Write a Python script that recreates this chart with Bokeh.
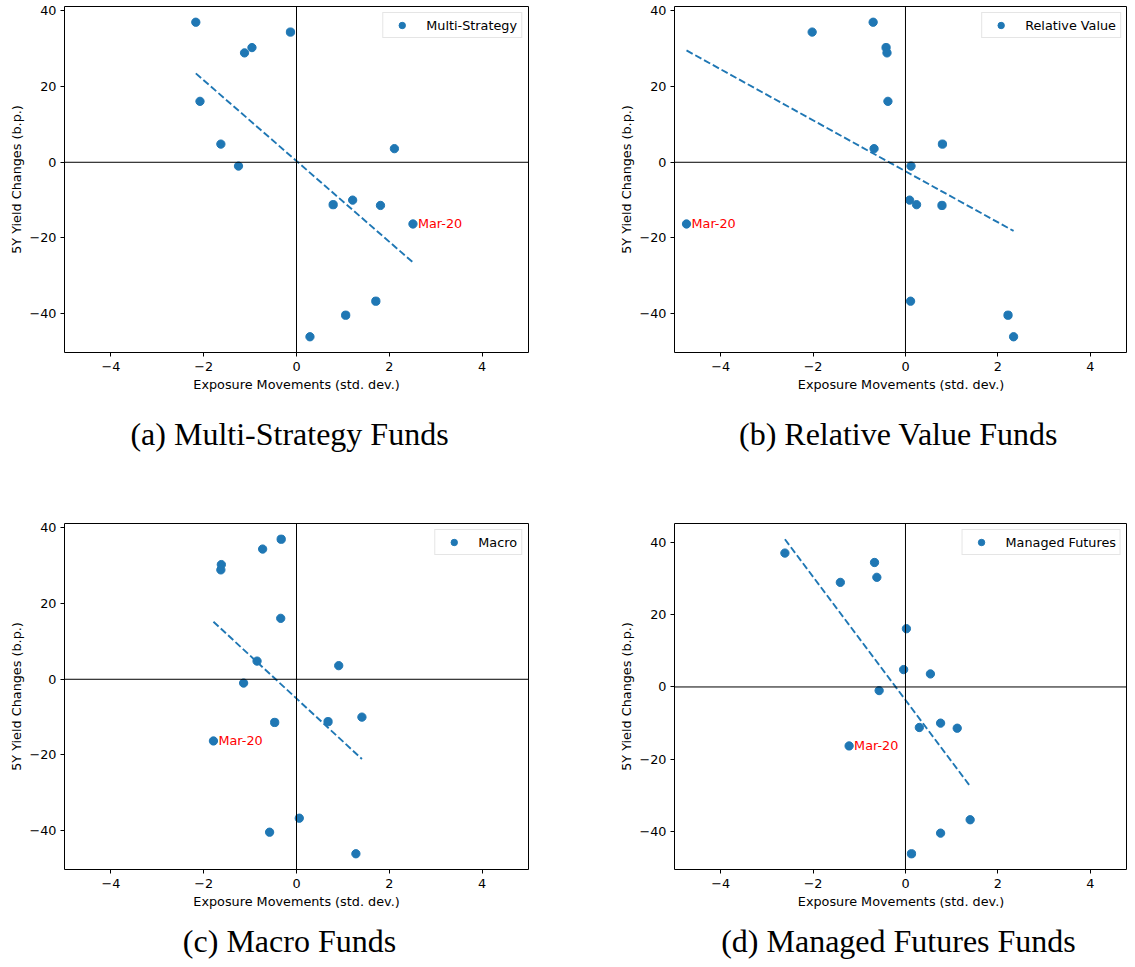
import numpy as np
from bokeh.plotting import figure
from bokeh.layouts import column, row
from bokeh.models import Range1d, FixedTicker, Span
from bokeh.core.properties import value
from bokeh.embed import file_html
from bokeh.resources import INLINE

# ---------------- data ----------------
Y_CHANGE = [37.0, 34.4, 30.3, 28.9, 16.1, 4.8, 3.6, -1.0, -10.0, -11.2, -11.4, -16.3, -36.7, -40.4, -46.1]
MARCH_IDX = 11
MARCH_LABEL = "Mar-20"

X_MULTI = [-2.17, -0.13, -0.96, -1.12, -2.08, -1.63, 2.11, -1.25, 1.21, 0.79, 1.81, 2.51, 1.71, 1.06, 0.29]
X_RELVAL = [-0.70, -2.02, -0.42, -0.40, -0.38, 0.80, -0.68, 0.12, 0.09, 0.24, 0.79, -4.74, 0.11, 2.22, 2.34]
X_MACRO = [-0.33, -0.73, -1.62, -1.63, -0.34, -0.85, 0.91, -1.14, 1.41, 0.68, -0.47, -1.79, 0.06, -0.58, 1.28]
X_MANFUT = [-2.61, -0.67, -0.62, -1.41, 0.02, -0.04, 0.54, -0.57, 0.76, 0.30, 1.12, -1.22, 1.40, 0.76, 0.13]

SERIES_NAMES = ["Multi-Strategy", "Relative Value", "Macro", "Managed Futures"]
CAPTIONS = ["(a) Multi-Strategy Funds", "(b) Relative Value Funds",
            "(c) Macro Funds", "(d) Managed Futures Funds"]

XTICKS = [-4, -2, 0, 2, 4]
XTICK_LABELS = ["\u22124", "\u22122", "0", "2", "4"]
YTICKS = [-40, -20, 0, 20, 40]
YTICK_LABELS = ["\u221240", "\u221220", "0", "20", "40"]

X_LABEL = "Exposure Movements (std. dev.)"
Y_LABEL = "5Y Yield Changes (b.p.)"

# ---------------- style ----------------
BLUE = "#1f77b4"
SANS = "DejaVu Sans"
FS = "12.8px"
PX_PER_UNIT = 46.4


def make_panel(xs, name, width, height, frame_w, b_left, b_right, b_top):
    slope, icpt = np.polyfit(xs, Y_CHANGE, 1)
    lx = np.array([min(xs), max(xs)])
    ly = icpt + slope * lx
    allv = list(Y_CHANGE) + list(ly)
    lo, hi = min(allv), max(allv)
    pad = 0.05 * (hi - lo)
    x_end = -5 + frame_w / PX_PER_UNIT

    p = figure(width=width, height=height,
               x_range=Range1d(-5, x_end), y_range=Range1d(lo - pad, hi + pad),
               output_backend="svg", toolbar_location=None,
               min_border_left=b_left, min_border_right=b_right,
               min_border_top=b_top, min_border_bottom=50)
    p.grid.visible = False
    p.background_fill_color = "white"
    p.border_fill_color = "white"
    p.outline_line_color = "black"
    p.outline_line_width = 1

    for ax, ticks, labels in ((p.xaxis, XTICKS, XTICK_LABELS), (p.yaxis, YTICKS, YTICK_LABELS)):
        ax.ticker = FixedTicker(ticks=ticks)
        ax.major_label_overrides = dict(zip(ticks, labels))
        ax.axis_line_color = None
        ax.major_tick_line_color = "black"
        ax.major_tick_line_width = 1
        ax.major_tick_out = 4
        ax.major_tick_in = 0
        ax.minor_tick_out = 0
        ax.minor_tick_in = 0
        ax.major_label_text_font = SANS
        ax.major_label_text_font_size = FS
        ax.major_label_text_color = "black"
        ax.axis_label_text_font = SANS
        ax.axis_label_text_font_size = FS
        ax.axis_label_text_font_style = "normal"
        ax.axis_label_text_color = "black"
    p.xaxis.axis_label = X_LABEL
    p.yaxis.axis_label = Y_LABEL
    p.xaxis.major_label_standoff = 5
    p.xaxis.axis_label_standoff = 3
    p.yaxis.major_label_standoff = 4
    p.yaxis.axis_label_standoff = 2

    p.scatter(xs, Y_CHANGE, size=8.3, fill_color=BLUE, line_color=BLUE, line_width=1,
              legend_label=name)
    p.line(lx, ly, line_color=BLUE, line_width=1.9, line_dash="7 3")

    p.add_layout(Span(location=0, dimension="width", line_color="black", line_width=1))
    p.add_layout(Span(location=0, dimension="height", line_color="black", line_width=1))

    p.text(x=[xs[MARCH_IDX]], y=[Y_CHANGE[MARCH_IDX]], text=[MARCH_LABEL], x_offset=5,
           text_align="left", text_baseline="alphabetic", text_color="red",
           text_font=value(SANS), text_font_size=FS)

    lg = p.legend[0]
    lg.location = "top_right"
    lg.margin = 6
    lg.padding = 4
    lg.spacing = 0
    lg.glyph_width = 29
    lg.glyph_height = 16
    lg.label_height = 16
    lg.label_standoff = 10
    lg.label_text_font = SANS
    lg.label_text_font_size = FS
    lg.label_text_color = "black"
    lg.border_line_color = "#cccccc"
    lg.border_line_width = 1
    lg.background_fill_color = "white"
    lg.background_fill_alpha = 0.8
    return p


def make_caption(text, width, height, cx, base):
    c = figure(width=width, height=height, x_range=Range1d(0, width), y_range=Range1d(height, 0),
               output_backend="svg", toolbar_location=None, min_border=0,
               x_axis_location=None, y_axis_location=None)
    c.grid.visible = False
    c.outline_line_color = None
    c.background_fill_color = "white"
    c.border_fill_color = "white"
    c.text(x=[cx], y=[base], text=[text], text_align="center", text_baseline="alphabetic",
           text_font=value("Liberation Serif"), text_font_size="32px", text_color="black")
    return c


WA, WB = 616, 511
FRAME_A, FRAME_B = 464, 455
pa = make_panel(X_MULTI, SERIES_NAMES[0], WA, 402, FRAME_A, 64, 88, 6)
pb = make_panel(X_RELVAL, SERIES_NAMES[1], WB, 402, FRAME_B, 56, 0, 6)
pc = make_panel(X_MACRO, SERIES_NAMES[2], WA, 400, FRAME_A, 64, 88, 4)
pd = make_panel(X_MANFUT, SERIES_NAMES[3], WB, 400, FRAME_B, 56, 0, 4)

ca = make_caption(CAPTIONS[0], WA, 117, 289, 31)
cb = make_caption(CAPTIONS[1], WB, 117, 282, 31)
cc = make_caption(CAPTIONS[2], WA, 40, 289, 21)
cd = make_caption(CAPTIONS[3], WB, 40, 282, 21)

layout = column(row(pa, pb), row(ca, cb), row(pc, pd), row(cc, cd),
                styles={"margin-bottom": "-8px"})

open("out.html", "w").write(file_html(layout, INLINE))
